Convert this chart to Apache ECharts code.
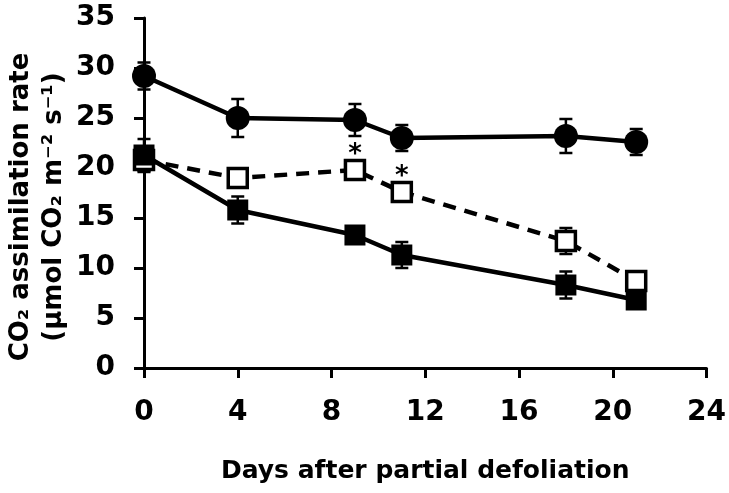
<!DOCTYPE html>
<html>
<head>
<meta charset="utf-8">
<script src="https://cdn.jsdelivr.net/npm/echarts@6/dist/echarts.min.js"></script>
<style>html,body{margin:0;padding:0;background:#fff}#c{width:729px;height:493px}</style>
</head>
<body>
<div id="c"></div>
<script>
const days = [0, 4, 9, 11, 18, 21];
const xTicks = [0, 4, 8, 12, 16, 20, 24];
const yTicks = [0, 5, 10, 15, 20, 25, 30, 35];
const controlMean = [29.2, 25.0, 24.8, 23.0, 23.2, 22.6];
const controlErr  = [1.35, 1.9, 1.6, 1.3, 1.7, 1.3];
const openMean    = [20.8, 19.0, 19.8, 17.6, 12.7, 8.7];
const openErr     = [1.2, 0.5, 0.9, 0.5, 1.3, 0.7];
const filledMean  = [21.3, 15.8, 13.3, 11.3, 8.3, 6.8];
const filledErr   = [1.6, 1.35, 0.8, 1.3, 1.35, 0.8];
const sigDays = [9, 11];
const xTitle = 'Days after partial defoliation';
const yTitle = 'CO₂ assimilation rate\n(µmol CO₂ m⁻² s⁻¹)';

const FONT = '"DejaVu Sans", sans-serif';
const chart = echarts.init(document.getElementById('c'), null, {renderer: 'canvas'});

function pts(mean) { return days.map((d, i) => [d, mean[i]]); }
function errData(mean, err) { return days.map((d, i) => [d, mean[i] - err[i], mean[i] + err[i]]); }
function errSeries(mean, err, z) {
  return {
    type: 'custom', z: z, silent: true,
    data: errData(mean, err),
    renderItem: function (params, api) {
      const x = api.value(0);
      const lo = api.coord([x, api.value(1)]);
      const hi = api.coord([x, api.value(2)]);
      const w = 6.5;
      const st = {stroke: '#000', lineWidth: 2.5};
      return {type: 'group', children: [
        {type: 'line', shape: {x1: lo[0], y1: lo[1], x2: hi[0], y2: hi[1]}, style: st},
        {type: 'line', shape: {x1: lo[0] - w, y1: lo[1], x2: lo[0] + w, y2: lo[1]}, style: st},
        {type: 'line', shape: {x1: hi[0] - w, y1: hi[1], x2: hi[0] + w, y2: hi[1]}, style: st}
      ]};
    }
  };
}

const openData = days.map((d, i) => {
  const item = {value: [d, openMean[i]]};
  if (sigDays.indexOf(d) >= 0) {
    item.label = {show: true, formatter: '*', position: 'top', distance: -9,
      fontFamily: FONT, fontWeight: 'bold', fontSize: 26, color: '#000'};
  }
  return item;
});

chart.setOption({
  animation: false,
  backgroundColor: '#fff',
  grid: {left: 144, right: 21, top: 18, bottom: 125, containLabel: false},
  xAxis: {
    type: 'value', min: xTicks[0], max: xTicks[xTicks.length - 1], interval: 4,
    name: xTitle, nameLocation: 'middle', nameGap: 91,
    nameTextStyle: {fontFamily: FONT, fontWeight: 'bold', fontSize: 25, color: '#000'},
    axisLine: {show: true, onZero: false, lineStyle: {color: '#000', width: 3}},
    axisTick: {show: true, inside: false, length: 10, lineStyle: {color: '#000', width: 3}},
    axisLabel: {margin: 31, fontFamily: FONT, fontWeight: 'bold', fontSize: 28, color: '#000',
      formatter: v => String(v)},
    splitLine: {show: false}
  },
  yAxis: {
    type: 'value', min: yTicks[0], max: yTicks[yTicks.length - 1], interval: 5,
    axisLine: {show: true, lineStyle: {color: '#000', width: 3}},
    axisTick: {show: true, inside: false, length: 10, lineStyle: {color: '#000', width: 3}},
    axisLabel: {margin: 29, fontFamily: FONT, fontWeight: 'bold', fontSize: 28, color: '#000'},
    splitLine: {show: false}
  },
  graphic: [{
    type: 'text', x: 38, y: 207, rotation: Math.PI / 2,
    style: {text: yTitle, fontFamily: FONT, fontWeight: 'bold', fontSize: 26, lineHeight: 33,
      fill: '#000', align: 'center', verticalAlign: 'middle'}
  }],
  series: [
    errSeries(controlMean, controlErr, 2),
    errSeries(openMean, openErr, 2),
    errSeries(filledMean, filledErr, 2),
    {
      type: 'line', z: 3, data: pts(controlMean), symbol: 'circle', symbolSize: 24,
      lineStyle: {color: '#000', width: 4.5}, itemStyle: {color: '#000'}
    },
    {
      type: 'line', z: 4, data: openData, symbol: 'rect', symbolSize: 19,
      lineStyle: {color: '#000', width: 4.5, type: [13, 9]},
      itemStyle: {color: '#fff', borderColor: '#000', borderWidth: 3.5}
    },
    {
      type: 'line', z: 5, data: pts(filledMean), symbol: 'rect', symbolSize: 21,
      lineStyle: {color: '#000', width: 4.5}, itemStyle: {color: '#000'}
    }
  ]
});
</script>
</body>
</html>
